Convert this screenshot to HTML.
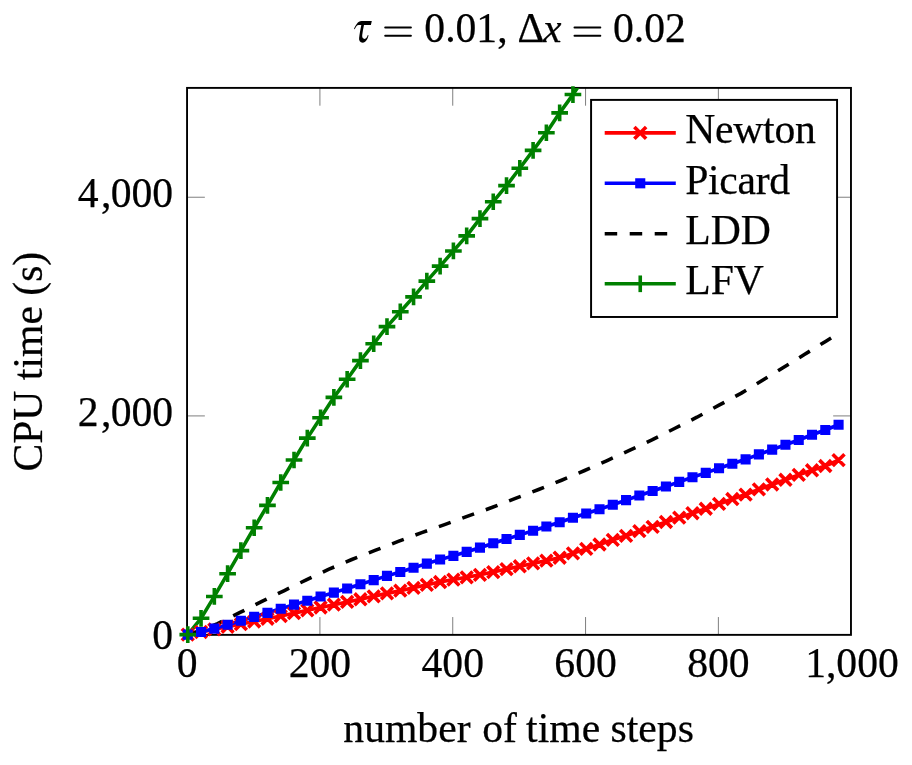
<!DOCTYPE html>
<html><head><meta charset="utf-8"><title>CPU time</title>
<style>html,body{margin:0;padding:0;background:#fff;}svg{display:block;will-change:transform;}text{font-family:"Liberation Serif",serif;font-size:41.67px;fill:#000;stroke:#000;stroke-width:0.25px;stroke-linejoin:round;}.it{font-style:italic;}</style></head><body>
<svg width="912" height="765" viewBox="0 0 912 765">
<rect x="0" y="0" width="912" height="765" fill="#fff"/>
<defs><clipPath id="c"><rect x="187.05" y="87.90" width="663.92" height="546.96"/></clipPath></defs>
<path d="M319.92 634.86v-17.80M319.92 87.90v17.80M452.74 634.86v-17.80M452.74 87.90v17.80M585.56 634.86v-17.80M585.56 87.90v17.80M718.38 634.86v-17.80M718.38 87.90v17.80M187.05 415.92h17.80M850.97 415.92h-17.80M187.05 197.24h17.80M850.97 197.24h-17.80" stroke="#787878" stroke-width="0.95" fill="none"/>
<rect x="187.05" y="87.90" width="663.92" height="546.96" fill="none" stroke="#000" stroke-width="1.9"/>
<g clip-path="url(#c)" fill="none" stroke-width="3.60" stroke-linejoin="round">
<polyline points="187.76,634.60 201.05,631.98 214.33,629.35 227.61,626.73 240.89,624.10 254.17,621.48 267.46,618.75 280.74,616.01 294.02,613.17 307.30,610.33 320.58,607.48 333.87,604.64 347.15,601.91 360.43,599.28 373.71,596.33 386.99,593.38 400.28,590.65 413.56,587.80 426.84,584.85 440.12,582.01 453.40,579.60 466.69,577.31 479.97,574.79 493.25,572.06 506.53,569.11 519.81,566.26 533.10,563.42 546.38,560.58 559.66,557.73 572.94,553.36 586.22,548.88 599.51,544.50 612.79,539.80 626.07,535.87 639.35,531.16 652.63,526.79 665.92,521.98 679.20,517.61 692.48,513.23 705.76,508.75 719.04,503.94 732.33,499.02 745.61,494.54 758.89,489.40 772.17,484.48 785.45,479.77 798.74,474.85 812.02,470.26 825.30,466.00 838.58,460.09" stroke="#ff0000"/>
<polyline points="187.76,634.60 201.05,631.98 214.33,628.59 227.61,624.76 240.89,620.82 254.17,616.89 267.46,612.84 280.74,608.69 294.02,604.64 307.30,600.70 320.58,596.55 333.87,592.61 347.15,588.46 360.43,584.30 373.71,580.15 386.99,575.88 400.28,572.06 413.56,567.79 426.84,563.64 440.12,559.48 453.40,555.88 466.69,551.83 479.97,547.67 493.25,543.30 506.53,539.04 519.81,534.88 533.10,530.73 546.38,526.57 559.66,522.20 572.94,517.82 586.22,513.45 599.51,509.19 612.79,504.70 626.07,500.11 639.35,495.52 652.63,490.93 665.92,486.55 679.20,481.85 692.48,477.26 705.76,472.89 719.04,468.29 732.33,463.81 745.61,459.33 758.89,454.41 772.17,449.60 785.45,444.79 798.74,439.97 812.02,434.73 825.30,430.02 838.58,424.78" stroke="#0000ff"/>
<polyline points="187.76,634.60 201.05,630.23 217.65,623.67 239.56,612.73 261.94,601.36 284.39,590.54 306.31,579.82 329.02,569.21 351.80,559.48 375.04,550.41 398.28,541.44 421.79,532.59 445.30,524.39 468.48,515.86 491.79,507.55 515.43,498.36 538.61,489.51 561.59,480.21 584.70,470.48 607.14,460.53 629.39,450.36 651.97,439.87 674.55,428.49 696.93,417.23 719.04,405.20 740.96,393.40 761.75,380.82 782.93,367.81 804.38,354.47 825.57,341.46 838.58,333.37" stroke="#000" stroke-dasharray="12.47 12.465" stroke-dashoffset="0.6"/>
<polyline points="187.76,634.60 201.05,618.31 214.33,596.44 227.61,573.70 240.89,550.63 254.17,527.77 267.46,505.36 280.74,482.51 294.02,459.98 307.30,438.12 320.58,417.78 333.87,397.33 347.15,379.29 360.43,360.59 373.71,343.76 386.99,326.59 400.28,311.72 413.56,296.85 426.84,281.10 440.12,266.12 453.40,250.93 466.69,235.84 479.97,218.67 493.25,201.72 506.53,185.65 519.81,168.26 533.10,150.33 546.38,132.73 559.66,112.83 572.94,94.57 586.22,74.78" stroke="#008000"/>
</g>
<path d="M181.87 628.71l11.78 11.78M181.87 640.49l11.78 -11.78M195.16 626.09l11.78 11.78M195.16 637.87l11.78 -11.78M208.44 623.46l11.78 11.78M208.44 635.24l11.78 -11.78M221.72 620.84l11.78 11.78M221.72 632.62l11.78 -11.78M235.00 618.21l11.78 11.78M235.00 629.99l11.78 -11.78M248.28 615.59l11.78 11.78M248.28 627.37l11.78 -11.78M261.57 612.86l11.78 11.78M261.57 624.64l11.78 -11.78M274.85 610.12l11.78 11.78M274.85 621.90l11.78 -11.78M288.13 607.28l11.78 11.78M288.13 619.06l11.78 -11.78M301.41 604.44l11.78 11.78M301.41 616.22l11.78 -11.78M314.69 601.59l11.78 11.78M314.69 613.37l11.78 -11.78M327.98 598.75l11.78 11.78M327.98 610.53l11.78 -11.78M341.26 596.02l11.78 11.78M341.26 607.80l11.78 -11.78M354.54 593.39l11.78 11.78M354.54 605.17l11.78 -11.78M367.82 590.44l11.78 11.78M367.82 602.22l11.78 -11.78M381.10 587.49l11.78 11.78M381.10 599.27l11.78 -11.78M394.39 584.76l11.78 11.78M394.39 596.54l11.78 -11.78M407.67 581.91l11.78 11.78M407.67 593.69l11.78 -11.78M420.95 578.96l11.78 11.78M420.95 590.74l11.78 -11.78M434.23 576.12l11.78 11.78M434.23 587.90l11.78 -11.78M447.51 573.71l11.78 11.78M447.51 585.49l11.78 -11.78M460.80 571.42l11.78 11.78M460.80 583.20l11.78 -11.78M474.08 568.90l11.78 11.78M474.08 580.68l11.78 -11.78M487.36 566.17l11.78 11.78M487.36 577.95l11.78 -11.78M500.64 563.22l11.78 11.78M500.64 575.00l11.78 -11.78M513.92 560.37l11.78 11.78M513.92 572.15l11.78 -11.78M527.21 557.53l11.78 11.78M527.21 569.31l11.78 -11.78M540.49 554.69l11.78 11.78M540.49 566.47l11.78 -11.78M553.77 551.84l11.78 11.78M553.77 563.62l11.78 -11.78M567.05 547.47l11.78 11.78M567.05 559.25l11.78 -11.78M580.33 542.99l11.78 11.78M580.33 554.77l11.78 -11.78M593.62 538.61l11.78 11.78M593.62 550.39l11.78 -11.78M606.90 533.91l11.78 11.78M606.90 545.69l11.78 -11.78M620.18 529.98l11.78 11.78M620.18 541.76l11.78 -11.78M633.46 525.27l11.78 11.78M633.46 537.05l11.78 -11.78M646.74 520.90l11.78 11.78M646.74 532.68l11.78 -11.78M660.03 516.09l11.78 11.78M660.03 527.87l11.78 -11.78M673.31 511.72l11.78 11.78M673.31 523.50l11.78 -11.78M686.59 507.34l11.78 11.78M686.59 519.12l11.78 -11.78M699.87 502.86l11.78 11.78M699.87 514.64l11.78 -11.78M713.15 498.05l11.78 11.78M713.15 509.83l11.78 -11.78M726.44 493.13l11.78 11.78M726.44 504.91l11.78 -11.78M739.72 488.65l11.78 11.78M739.72 500.43l11.78 -11.78M753.00 483.51l11.78 11.78M753.00 495.29l11.78 -11.78M766.28 478.59l11.78 11.78M766.28 490.37l11.78 -11.78M779.56 473.88l11.78 11.78M779.56 485.66l11.78 -11.78M792.85 468.96l11.78 11.78M792.85 480.74l11.78 -11.78M806.13 464.37l11.78 11.78M806.13 476.15l11.78 -11.78M819.41 460.11l11.78 11.78M819.41 471.89l11.78 -11.78M832.69 454.20l11.78 11.78M832.69 465.98l11.78 -11.78" stroke="#ff0000" stroke-width="3.60" fill="none"/>
<path d="M182.71 629.55h10.10v10.10h-10.10zM196.00 626.93h10.10v10.10h-10.10zM209.28 623.54h10.10v10.10h-10.10zM222.56 619.71h10.10v10.10h-10.10zM235.84 615.77h10.10v10.10h-10.10zM249.12 611.84h10.10v10.10h-10.10zM262.41 607.79h10.10v10.10h-10.10zM275.69 603.64h10.10v10.10h-10.10zM288.97 599.59h10.10v10.10h-10.10zM302.25 595.65h10.10v10.10h-10.10zM315.53 591.50h10.10v10.10h-10.10zM328.82 587.56h10.10v10.10h-10.10zM342.10 583.41h10.10v10.10h-10.10zM355.38 579.25h10.10v10.10h-10.10zM368.66 575.10h10.10v10.10h-10.10zM381.94 570.83h10.10v10.10h-10.10zM395.23 567.01h10.10v10.10h-10.10zM408.51 562.74h10.10v10.10h-10.10zM421.79 558.59h10.10v10.10h-10.10zM435.07 554.43h10.10v10.10h-10.10zM448.35 550.83h10.10v10.10h-10.10zM461.64 546.78h10.10v10.10h-10.10zM474.92 542.62h10.10v10.10h-10.10zM488.20 538.25h10.10v10.10h-10.10zM501.48 533.99h10.10v10.10h-10.10zM514.76 529.83h10.10v10.10h-10.10zM528.05 525.68h10.10v10.10h-10.10zM541.33 521.52h10.10v10.10h-10.10zM554.61 517.15h10.10v10.10h-10.10zM567.89 512.77h10.10v10.10h-10.10zM581.17 508.40h10.10v10.10h-10.10zM594.46 504.14h10.10v10.10h-10.10zM607.74 499.65h10.10v10.10h-10.10zM621.02 495.06h10.10v10.10h-10.10zM634.30 490.47h10.10v10.10h-10.10zM647.58 485.88h10.10v10.10h-10.10zM660.87 481.50h10.10v10.10h-10.10zM674.15 476.80h10.10v10.10h-10.10zM687.43 472.21h10.10v10.10h-10.10zM700.71 467.84h10.10v10.10h-10.10zM713.99 463.24h10.10v10.10h-10.10zM727.28 458.76h10.10v10.10h-10.10zM740.56 454.28h10.10v10.10h-10.10zM753.84 449.36h10.10v10.10h-10.10zM767.12 444.55h10.10v10.10h-10.10zM780.40 439.74h10.10v10.10h-10.10zM793.69 434.92h10.10v10.10h-10.10zM806.97 429.68h10.10v10.10h-10.10zM820.25 424.97h10.10v10.10h-10.10zM833.53 419.73h10.10v10.10h-10.10z" fill="#0000ff"/>
<path d="M179.43 634.60h16.66M187.76 626.27v16.66M192.72 618.31h16.66M201.05 609.98v16.66M206.00 596.44h16.66M214.33 588.11v16.66M219.28 573.70h16.66M227.61 565.37v16.66M232.56 550.63h16.66M240.89 542.30v16.66M245.84 527.77h16.66M254.17 519.44v16.66M259.13 505.36h16.66M267.46 497.03v16.66M272.41 482.51h16.66M280.74 474.18v16.66M285.69 459.98h16.66M294.02 451.65v16.66M298.97 438.12h16.66M307.30 429.79v16.66M312.25 417.78h16.66M320.58 409.45v16.66M325.54 397.33h16.66M333.87 389.00v16.66M338.82 379.29h16.66M347.15 370.96v16.66M352.10 360.59h16.66M360.43 352.26v16.66M365.38 343.76h16.66M373.71 335.43v16.66M378.66 326.59h16.66M386.99 318.26v16.66M391.95 311.72h16.66M400.28 303.39v16.66M405.23 296.85h16.66M413.56 288.52v16.66M418.51 281.10h16.66M426.84 272.77v16.66M431.79 266.12h16.66M440.12 257.79v16.66M445.07 250.93h16.66M453.40 242.60v16.66M458.36 235.84h16.66M466.69 227.51v16.66M471.64 218.67h16.66M479.97 210.34v16.66M484.92 201.72h16.66M493.25 193.39v16.66M498.20 185.65h16.66M506.53 177.32v16.66M511.48 168.26h16.66M519.81 159.93v16.66M524.77 150.33h16.66M533.10 142.00v16.66M538.05 132.73h16.66M546.38 124.40v16.66M551.33 112.83h16.66M559.66 104.50v16.66M564.61 94.57h16.66M572.94 86.24v16.66" stroke="#008000" stroke-width="3.60" fill="none"/>
<rect x="591.08" y="99.90" width="245.98" height="217.08" fill="#fff" stroke="#000" stroke-width="1.95"/>
<path d="M604.70 132.90H675.80" stroke="#ff0000" stroke-width="3.60"/>
<path d="M634.36 127.01l11.78 11.78M634.36 138.79l11.78 -11.78" stroke="#ff0000" stroke-width="3.60" fill="none"/>
<path d="M604.70 183.30H675.80" stroke="#0000ff" stroke-width="3.60"/>
<rect x="635.20" y="178.25" width="10.10" height="10.10" fill="#0000ff"/>
<path d="M604.70 233.80H675.80" stroke="#000" stroke-width="3.60" stroke-dasharray="12.5 12.5"/>
<path d="M604.70 283.80H675.80" stroke="#008000" stroke-width="3.60"/>
<path d="M640.25 275.47v16.66" stroke="#008000" stroke-width="3.60"/>
<text x="685.20" y="143.30" letter-spacing="-0.25">Newton</text>
<text x="685.20" y="193.70" letter-spacing="-0.30">Picard</text>
<text x="685.20" y="243.80" letter-spacing="0.00">LDD</text>
<text x="685.20" y="293.80" letter-spacing="0.00">LFV</text>
<text x="187.10" y="677.0" text-anchor="middle">0</text>
<text x="319.92" y="677.0" text-anchor="middle">200</text>
<text x="452.74" y="677.0" text-anchor="middle">400</text>
<text x="585.56" y="677.0" text-anchor="middle">600</text>
<text x="718.38" y="677.0" text-anchor="middle">800</text>
<text x="852.00" y="677.0" text-anchor="middle">1,000</text>
<text x="173.2" y="649.0" text-anchor="end">0</text>
<text x="173.2" y="426.02" text-anchor="end">2<tspan dx="2.2">,</tspan><tspan dx="-0.6">000</tspan></text>
<text x="173.2" y="207.34" text-anchor="end">4<tspan dx="2.2">,</tspan><tspan dx="-0.6">000</tspan></text>
<text x="518.6" y="741.9" text-anchor="middle">number <tspan dx="1.2">of</tspan><tspan dx="-1.2"> time steps</tspan></text>
<text transform="translate(42.0 361.7) rotate(-90)" text-anchor="middle">CPU time (s)</text>
<path d="M354.0 28.9C355.5 25.5 357.8 21.0 361.5 21.0L371.8 21.0L370.9 24.9L364.0 24.9C363.3 28.5 362.5 32.0 362.2 35.3C362.0 37.5 363.0 38.9 364.6 38.9C366.0 38.9 367.2 37.0 367.8 35.0L368.5 35.3C367.8 39.0 365.8 42.7 362.7 42.7C360.0 42.7 358.8 40.5 359.1 38.0C359.5 34.0 360.5 29.0 361.3 24.9L358.8 24.9C356.8 24.9 355.8 27.0 354.7 29.2Z" fill="#000"/>
<path d="M385.20 27.6H410.90M385.20 35.7H410.90" stroke="#000" stroke-width="2" stroke-linecap="round" fill="none"/>
<text x="424.3" y="42.0">0.01,</text>
<text x="517.5" y="42.0">Δ</text>
<text class="it" x="543.0" y="42.0">x</text>
<path d="M574.50 27.6H600.30M574.50 35.7H600.30" stroke="#000" stroke-width="2" stroke-linecap="round" fill="none"/>
<text x="613.0" y="42.0">0.02</text>
</svg></body></html>
